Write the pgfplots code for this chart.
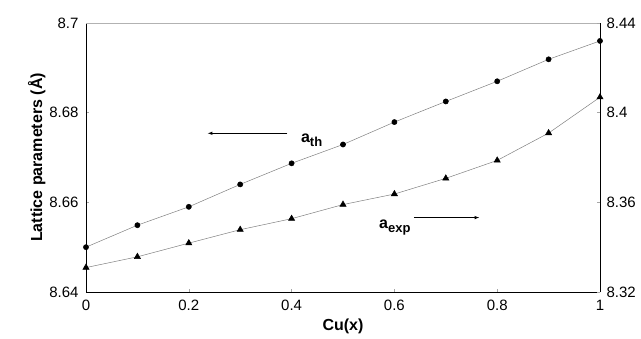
\documentclass[border=0pt]{standalone}
\usepackage{pgfplots}
\pgfplotsset{compat=1.18}
\usepackage{fontspec}
\setmainfont{Liberation Sans}
\newcommand{\sub}[1]{\raisebox{-4bp}{\fontsize{13bp}{14bp}\selectfont\bfseries #1}}
\begin{document}
\begin{tikzpicture}
\path[use as bounding box] (-86bp,-47bp) rectangle (555bp,292bp);
\pgfplotsset{
  common/.style={
    width=514bp, height=269bp, scale only axis,
    xmin=0, xmax=1,
    tick style={gray!70, line width=0.5pt},
    major tick length=3bp,
    tick align=inside,
    ticklabel style={font=\fontsize{15bp}{18bp}\selectfont},
    /pgf/number format/assume math mode=true,
    axis line style={black, line width=0.8pt},
  }
}
\begin{axis}[common,
  axis x line*=bottom, axis y line*=left,
  ymin=8.64, ymax=8.70,
  ytick={8.64,8.66,8.68,8.70},
  yticklabels={8.64,8.66,8.68,8.7},
  xtick={0,0.2,0.4,0.6,0.8,1},
  xticklabels={0,0.2,0.4,0.6,0.8,1},
  xticklabel style={yshift=-5bp},
  yticklabel style={xshift=-4bp},
  xlabel={\bfseries Cu(x)},
  ylabel={\bfseries Lattice parameters (Å)},
  label style={font=\fontsize{16bp}{18bp}\selectfont\bfseries},
  xlabel style={yshift=-1bp},
  ylabel style={yshift=-3bp},
  clip=false,
]
\draw[gray!60, line width=0.8pt] (rel axis cs:0,1) -- (rel axis cs:1,1);
\addplot[gray, line width=0.5pt, mark=*, mark size=2.6bp, mark options={fill=black, draw=black}] coordinates {
(0,8.6500) (0.1,8.6549) (0.2,8.6590) (0.3,8.6640) (0.4,8.6687)
(0.5,8.6729) (0.6,8.6779) (0.7,8.6825) (0.8,8.6870) (0.9,8.6919) (1.0,8.6960)
};
\draw[-latex, line width=0.6pt] (axis cs:0.392,8.6754) -- (axis cs:0.237,8.6754);
\node[anchor=base west, font=\fontsize{16bp}{18bp}\selectfont\bfseries, inner sep=0pt] at (axis cs:0.418,8.6734) {a\sub{th}};
\node[anchor=base west, font=\fontsize{16bp}{18bp}\selectfont\bfseries, inner sep=0pt] at (axis cs:0.570,8.6541) {a\sub{exp}};
\draw[-latex, line width=0.6pt] (axis cs:0.638,8.6566) -- (axis cs:0.765,8.6566);
\end{axis}
\begin{axis}[common,
  axis y line*=right, axis x line=none,
  ymin=8.32, ymax=8.44,
  ytick={8.32,8.36,8.40,8.44},
  yticklabels={8.32,8.36,8.4,8.44},
  yticklabel style={xshift=3bp},
  clip=false,
]
\addplot[gray, line width=0.5pt, mark=triangle*, mark size=3.6bp, mark options={fill=black, draw=black}] coordinates {
(0,8.3309) (0.1,8.3357) (0.2,8.3418) (0.3,8.3478) (0.4,8.3527)
(0.5,8.3590) (0.6,8.3637) (0.7,8.3707) (0.8,8.3787) (0.9,8.3909) (1.0,8.4069)
};
\end{axis}
\end{tikzpicture}
\end{document}
